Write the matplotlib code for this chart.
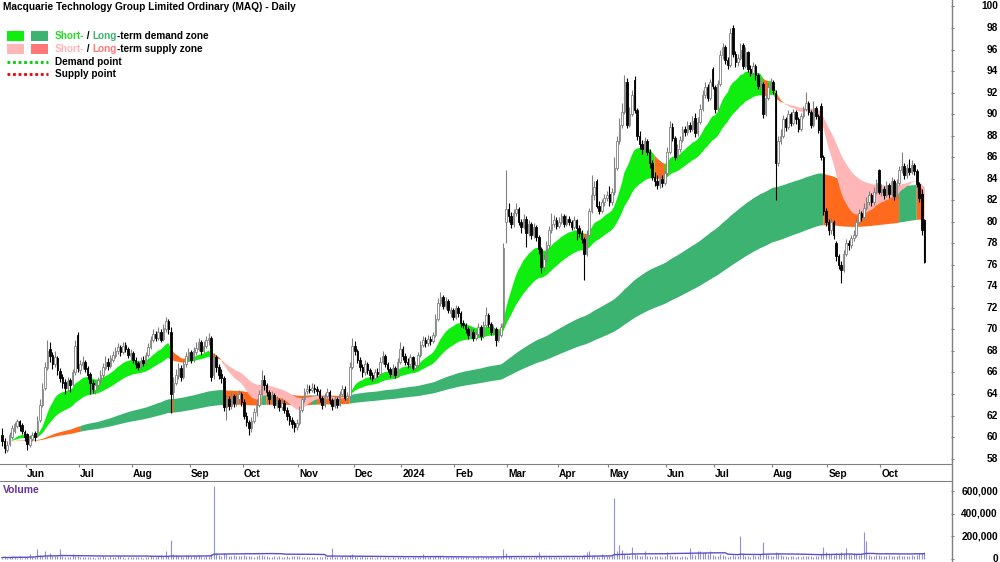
import numpy as np
import pandas as pd
import matplotlib
matplotlib.use("Agg")
import matplotlib.pyplot as plt
from matplotlib.lines import Line2D
from matplotlib.patches import Rectangle
from matplotlib.transforms import blended_transform_factory

plt.rcParams['font.family'] = ['Liberation Sans', 'DejaVu Sans']

title = "Macquarie Technology Group Limited Ordinary (MAQ) - Daily"
holidays = ['2023-06-12', '2023-12-25', '2023-12-26', '2024-01-01', '2024-01-26',
            '2024-03-29', '2024-04-01', '2024-04-25', '2024-06-10']

opens = [
    60.2, 59.6, 58.8, 59.4, 60.0, 60.6, 61.0, 61.5, 61.1, 60.5,
    60.3, 59.3, 59.8, 60.4, 60.2, 61.6, 63.0, 64.6, 66.4, 68.2, 67.6, 66.8, 67.3, 66.1, 65.6, 65.1, 64.6, 65.3, 64.9, 66.0, 69.5,
    66.2, 66.7, 67.0, 66.4, 65.9, 65.0, 64.4, 64.8, 65.2, 65.8, 66.4, 67.0, 66.6, 67.2, 67.5, 68.0, 68.4, 67.9, 68.6, 68.2, 67.5,
    67.8, 67.2, 66.9, 66.5, 67.2, 66.9, 67.6, 68.4, 69.0, 69.6, 69.2, 69.8, 69.1, 70.0, 70.8, 69.8, 64.2, 65.0, 65.7, 66.4, 65.6, 66.8, 67.4,
    67.9, 67.2, 67.9, 68.2, 68.8, 68.0, 68.5, 69.0, 69.2, 65.8, 67.4, 66.5, 65.9, 65.5, 62.8, 63.5, 62.9, 63.8, 63.2, 63.5, 64.0,
    63.3, 62.0, 61.4, 60.8, 61.5, 62.3, 63.0, 64.0, 65.3, 64.8, 64.2, 63.4, 63.9, 63.0, 63.4, 62.8, 63.2, 62.5, 62.0, 61.6, 61.3, 60.9,
    61.3, 62.5, 63.5, 64.3, 64.5, 64.4, 64.6, 64.5, 64.3, 63.6, 63.0, 63.8, 64.2, 63.4, 62.9, 63.5, 63.0, 64.0, 64.5, 63.6, 63.8, 66.5,
    68.5, 68.0, 67.2, 66.5, 66.0, 66.8, 66.2, 65.8, 65.5, 66.0, 65.9, 67.0, 67.5, 66.8, 66.3, 65.9, 66.4, 65.8, 67.0,
    68.2, 67.5, 67.0, 66.8, 67.4, 66.4, 66.7, 67.6, 68.6, 69.0, 68.7, 69.1, 68.9, 69.5, 71.0, 72.5, 73.0, 72.2, 72.6, 71.5, 71.8,
    71.2, 72.0, 71.5, 70.6, 70.4, 70.0, 69.5, 69.8, 69.2, 69.6, 70.2, 69.4, 70.4, 71.3, 70.5, 69.8, 70.0, 69.0, 69.5, 70.5, 80.0,
    81.2, 80.5, 79.8, 80.8, 81.2, 80.0, 79.5, 80.3, 79.0, 79.8, 78.8, 79.5, 78.6, 77.5, 75.8, 76.5, 77.8, 79.2, 79.8, 80.2,
    79.6, 80.0, 80.5, 79.8, 80.3, 80.0, 79.5, 80.2, 79.4, 79.0, 78.4, 77.0, 78.8, 81.0, 82.5, 83.8, 81.5, 81.0, 81.8, 82.2,
    82.6, 81.8, 82.8, 85.0, 87.5, 89.0, 90.2, 93.0, 89.0, 90.0, 93.2, 90.4, 88.0, 87.2, 86.8, 87.5, 86.5, 85.5, 84.2, 83.8, 83.4, 84.0, 83.6,
    84.5, 86.5, 88.8, 87.8, 86.0, 86.8, 87.6, 88.6, 88.3, 89.0, 88.6, 89.6, 88.2, 89.3, 90.5, 91.8, 92.5, 91.5, 94.2,
    92.5, 90.5, 92.8, 95.5, 96.2, 95.0, 94.6, 98.0, 95.6, 94.8, 95.2, 96.4, 94.5, 95.8, 94.2, 93.8, 94.5, 93.6, 92.6, 92.8, 90.0, 91.5, 92.5,
    93.0, 92.0, 85.5, 87.5, 88.0, 89.5, 88.8, 90.0, 89.2, 90.2, 89.5, 88.6, 89.8, 90.5, 91.0, 90.2, 89.0, 90.6, 89.8, 90.8, 86.0, 81.0,
    80.0, 79.2, 80.0, 78.0, 76.8, 76.0, 75.5, 77.0, 78.0, 77.8, 78.5, 78.8, 80.0, 80.8, 80.4, 81.3, 81.8, 82.5, 81.8, 82.8, 84.8,
    82.8, 83.0, 82.5, 83.4, 82.6, 83.8, 82.4, 83.6, 84.8, 85.2, 84.3, 85.0, 84.6, 85.3, 84.7, 83.5, 82.6, 80.2,
]
highs = [
    60.8, 59.9, 59.6, 60.5, 61.1, 61.4, 61.7, 61.6, 61.3, 60.7,
    60.4, 60.2, 60.5, 60.6, 62.0, 63.5, 65.0, 67.0, 69.0, 68.8, 67.9, 68.0, 67.5, 66.4, 65.9, 65.4, 65.6, 65.5, 66.3, 69.0, 69.8,
    67.2, 67.5, 67.2, 66.6, 66.0, 65.3, 65.2, 65.6, 66.2, 66.9, 67.5, 67.3, 67.6, 68.0, 68.4, 68.7, 68.6, 68.8, 68.8, 68.4, 68.2,
    68.0, 67.4, 67.1, 67.4, 67.5, 67.9, 68.7, 69.4, 70.0, 69.9, 70.2, 70.0, 70.5, 71.2, 71.0, 70.2, 65.6, 66.3, 66.9, 66.7, 67.2, 67.9, 68.3,
    68.1, 68.4, 68.8, 69.2, 69.0, 68.9, 69.4, 69.7, 69.4, 67.8, 67.6, 66.8, 66.3, 65.7, 63.9, 63.8, 64.2, 64.0, 64.1, 64.4, 64.2,
    63.5, 62.3, 61.6, 61.9, 62.7, 63.4, 64.4, 66.2, 65.8, 65.0, 64.4, 64.3, 64.1, 63.8, 63.6, 63.6, 63.4, 62.8, 62.2, 61.9, 61.5, 61.7,
    62.9, 63.8, 64.6, 64.9, 64.8, 65.0, 64.9, 64.7, 64.5, 63.8, 64.1, 64.6, 64.4, 63.6, 63.8, 63.7, 64.3, 64.8, 64.7, 64.2, 67.0, 69.2,
    68.9, 68.2, 67.4, 66.8, 67.2, 67.0, 66.4, 66.0, 66.3, 66.4, 67.4, 68.0, 67.7, 67.0, 66.5, 66.8, 66.6, 67.3, 68.8,
    68.5, 67.8, 67.3, 67.7, 67.5, 67.1, 67.9, 68.9, 69.4, 69.3, 69.5, 69.4, 69.8, 71.4, 72.9, 73.5, 73.2, 73.0, 72.8, 72.1, 72.0,
    72.3, 72.2, 71.7, 70.9, 70.6, 70.2, 70.1, 70.0, 69.9, 70.6, 70.4, 70.8, 72.1, 71.5, 70.7, 70.4, 70.2, 69.9, 70.6, 78.0, 84.8,
    81.7, 80.9, 81.2, 81.7, 81.4, 80.3, 80.7, 80.5, 80.2, 80.0, 79.9, 79.7, 78.8, 77.7, 77.0, 78.2, 79.6, 80.8, 80.6, 80.4,
    80.4, 80.8, 80.7, 80.6, 80.5, 80.2, 80.5, 80.3, 79.7, 79.2, 78.6, 79.2, 81.3, 84.3, 83.8, 84.0, 81.9, 82.1, 82.6, 82.9,
    83.3, 83.1, 86.0, 88.0, 89.6, 91.0, 93.6, 93.4, 90.7, 92.2, 93.5, 90.6, 88.4, 87.6, 87.9, 87.7, 86.8, 85.7, 84.6, 84.3, 84.5, 84.3, 84.8,
    86.9, 89.4, 89.2, 88.0, 87.2, 88.0, 88.9, 88.9, 89.4, 89.3, 89.8, 90.1, 89.7, 90.9, 92.2, 93.0, 92.8, 93.3, 94.4,
    92.7, 93.2, 96.0, 96.6, 96.4, 95.3, 98.0, 98.3, 95.9, 95.6, 96.6, 96.6, 96.2, 95.9, 94.6, 94.8, 94.7, 93.8, 93.4, 93.0, 91.9, 92.9, 93.4,
    93.2, 92.2, 88.0, 88.6, 89.9, 89.7, 90.4, 90.2, 90.5, 90.4, 89.7, 90.1, 90.8, 92.1, 91.2, 90.4, 91.2, 90.8, 90.0, 91.0, 86.2, 81.3,
    80.3, 80.4, 80.2, 78.2, 77.0, 76.4, 77.4, 78.4, 78.3, 78.8, 79.2, 80.4, 81.2, 81.0, 81.7, 82.3, 82.9, 82.7, 83.2, 84.0, 84.9,
    83.5, 83.3, 83.8, 83.6, 84.2, 84.0, 84.0, 85.2, 86.5, 85.5, 85.4, 85.8, 85.7, 85.5, 84.9, 83.7, 83.0, 80.3,
]
lows = [
    59.2, 58.5, 58.6, 59.2, 59.8, 60.4, 60.8, 60.6, 60.3, 59.6,
    58.8, 59.1, 59.6, 59.6, 60.0, 61.4, 62.8, 64.4, 66.2, 67.0, 66.3, 66.5, 65.8, 65.1, 64.6, 64.0, 64.3, 64.2, 64.7, 65.8, 66.0,
    65.9, 66.3, 66.0, 65.4, 64.0, 64.1, 64.0, 64.5, 65.0, 65.5, 66.2, 66.2, 66.4, 67.0, 67.3, 67.7, 67.5, 67.7, 67.9, 67.3, 67.2,
    66.9, 66.4, 66.2, 66.3, 66.6, 66.7, 67.4, 68.2, 68.8, 68.9, 69.0, 68.8, 68.9, 69.8, 69.6, 62.2, 63.5, 64.8, 65.4, 65.2, 65.4, 66.5, 67.1,
    66.9, 67.0, 67.6, 68.0, 67.6, 67.8, 68.3, 68.6, 65.2, 65.4, 66.0, 65.4, 65.0, 62.4, 61.6, 62.5, 62.6, 62.8, 62.9, 63.2, 62.9,
    61.7, 61.0, 60.2, 60.5, 61.3, 62.0, 62.8, 63.8, 64.4, 63.8, 63.1, 63.2, 62.7, 62.7, 62.4, 62.5, 62.2, 61.6, 61.1, 60.8, 60.5, 60.7,
    61.1, 62.3, 63.3, 64.0, 64.1, 64.2, 64.1, 63.9, 63.3, 62.6, 62.8, 63.6, 63.1, 62.5, 62.7, 62.7, 62.9, 63.8, 63.4, 63.3, 63.6, 66.3,
    67.6, 66.9, 66.1, 65.6, 65.8, 65.9, 65.4, 65.2, 65.3, 65.6, 65.7, 66.8, 66.5, 66.0, 65.6, 65.7, 65.5, 65.6, 66.8,
    67.2, 66.7, 66.4, 66.5, 66.2, 66.2, 66.5, 67.4, 68.4, 68.4, 68.5, 68.6, 68.7, 69.3, 70.8, 72.2, 71.9, 71.9, 71.5, 71.2, 70.9,
    71.0, 71.2, 70.2, 70.1, 69.7, 69.1, 69.2, 68.9, 69.0, 69.4, 69.0, 69.2, 70.2, 70.2, 69.5, 69.5, 68.5, 68.8, 69.3, 70.2, 78.0,
    80.0, 79.4, 79.5, 80.5, 79.7, 79.0, 79.3, 77.7, 78.7, 78.4, 78.5, 78.2, 77.0, 75.2, 75.4, 76.3, 77.6, 79.0, 79.5, 79.3,
    79.4, 79.8, 79.5, 79.6, 79.7, 79.2, 79.3, 78.3, 78.6, 78.0, 74.6, 76.8, 78.6, 80.8, 82.0, 81.3, 80.7, 80.8, 81.5, 81.9,
    81.5, 81.6, 82.5, 84.8, 87.2, 88.7, 90.0, 88.7, 88.8, 89.8, 90.1, 87.6, 86.8, 86.3, 86.5, 86.2, 85.0, 83.9, 83.3, 83.0, 83.1, 83.2, 83.4,
    84.3, 86.3, 87.5, 85.7, 85.8, 86.5, 87.4, 88.0, 88.1, 88.3, 88.4, 87.9, 88.0, 89.1, 90.3, 91.5, 91.2, 91.3, 92.3,
    90.1, 90.3, 92.6, 95.1, 94.7, 94.2, 94.4, 95.3, 94.4, 94.5, 95.0, 94.2, 94.3, 93.9, 93.5, 93.6, 93.2, 92.3, 92.2, 89.6, 89.8, 91.3, 92.2,
    91.9, 82.0, 85.2, 87.2, 87.8, 88.4, 88.6, 88.9, 89.0, 89.1, 88.3, 88.4, 89.6, 90.3, 89.9, 88.7, 88.8, 89.5, 88.2, 85.7, 80.6, 79.6,
    78.8, 78.9, 78.4, 76.4, 75.6, 74.3, 75.3, 76.8, 77.4, 77.6, 78.2, 78.6, 79.8, 80.1, 80.2, 81.1, 81.6, 81.5, 81.6, 82.6, 82.6,
    82.4, 82.1, 82.3, 82.2, 82.4, 82.0, 82.2, 83.4, 84.5, 84.0, 84.1, 84.3, 84.4, 84.3, 83.2, 81.8, 78.8, 76.2,
]
closes = [
    59.6, 59.0, 59.3, 60.2, 60.8, 61.2, 61.5, 61.0, 60.6, 60.0,
    59.4, 59.9, 60.2, 60.0, 61.5, 63.0, 64.5, 66.5, 68.0, 67.5, 66.8, 67.4, 66.2, 65.5, 65.0, 64.6, 65.2, 64.8, 66.0, 68.5, 66.4,
    66.8, 67.0, 66.3, 65.8, 65.0, 64.5, 64.8, 65.3, 65.8, 66.5, 67.0, 66.6, 67.3, 67.6, 68.0, 68.4, 67.9, 68.5, 68.2, 67.6, 67.8,
    67.2, 66.8, 66.5, 67.1, 66.9, 67.6, 68.4, 69.0, 69.6, 69.2, 69.8, 69.0, 70.1, 70.8, 70.0, 64.0, 65.0, 65.8, 66.4, 65.6, 66.8, 67.5, 67.9,
    67.2, 68.0, 68.3, 68.8, 68.0, 68.5, 69.0, 69.2, 65.6, 67.4, 66.5, 65.8, 65.5, 62.8, 63.5, 62.9, 63.8, 63.2, 63.6, 64.0, 63.3,
    62.0, 61.4, 60.8, 61.5, 62.3, 63.0, 64.0, 65.3, 64.8, 64.2, 63.5, 63.9, 63.0, 63.4, 62.8, 63.2, 62.5, 62.0, 61.5, 61.2, 60.9, 61.3,
    62.5, 63.5, 64.2, 64.5, 64.4, 64.6, 64.5, 64.3, 63.6, 63.0, 63.8, 64.2, 63.4, 62.9, 63.5, 63.0, 64.0, 64.5, 63.6, 63.8, 66.5, 68.5,
    68.0, 67.2, 66.5, 66.0, 66.8, 66.2, 65.8, 65.5, 66.0, 65.9, 67.0, 67.5, 66.8, 66.3, 65.9, 66.4, 65.8, 67.0, 68.2,
    67.5, 67.0, 66.8, 67.4, 66.4, 66.7, 67.6, 68.6, 69.0, 68.7, 69.1, 68.9, 69.5, 71.0, 72.5, 73.0, 72.2, 72.6, 71.8, 71.8, 71.2,
    72.0, 71.5, 70.6, 70.4, 70.0, 69.5, 69.8, 69.2, 69.6, 70.2, 69.4, 70.4, 71.3, 70.5, 69.8, 70.0, 69.0, 69.5, 70.2, 77.6, 81.2,
    80.5, 79.8, 80.8, 81.2, 80.0, 79.5, 80.3, 79.0, 79.8, 78.8, 79.5, 78.6, 77.5, 75.8, 76.5, 77.8, 79.2, 79.8, 80.2, 79.6,
    80.0, 80.5, 79.8, 80.3, 80.0, 79.5, 80.2, 79.4, 79.0, 78.4, 77.0, 78.8, 81.0, 82.5, 83.2, 81.5, 81.0, 81.8, 82.2, 82.5,
    81.8, 82.8, 85.0, 87.5, 89.0, 90.2, 93.0, 89.0, 90.0, 91.8, 90.4, 88.0, 87.2, 86.8, 87.5, 86.5, 85.5, 84.2, 83.8, 83.4, 84.0, 83.6, 84.5,
    86.5, 88.8, 87.8, 86.0, 86.8, 87.6, 88.5, 88.3, 89.0, 88.6, 89.4, 88.2, 89.3, 90.5, 91.8, 92.5, 91.5, 93.0, 92.6,
    90.5, 92.8, 95.5, 96.2, 95.0, 94.6, 97.5, 95.6, 94.8, 95.2, 96.0, 94.5, 95.8, 94.2, 93.8, 94.5, 93.6, 92.6, 93.0, 90.0, 91.5, 92.5, 93.0,
    92.2, 85.5, 87.5, 88.0, 89.5, 88.8, 90.0, 89.2, 90.2, 89.5, 88.6, 89.8, 90.5, 91.0, 90.2, 89.0, 90.6, 89.8, 88.5, 86.0, 81.0, 80.0,
    79.2, 80.0, 78.8, 76.8, 76.0, 75.5, 77.0, 78.0, 77.8, 78.5, 78.8, 80.0, 80.8, 80.4, 81.3, 81.8, 82.5, 81.8, 82.8, 83.6, 82.8,
    83.0, 82.5, 83.4, 82.6, 83.8, 82.4, 83.6, 84.8, 85.2, 84.3, 85.0, 84.6, 85.3, 84.7, 83.5, 82.2, 79.2, 76.3,
]
volume_k = [
    12, 18, 9, 14, 22, 16, 11, 25, 13, 17,
    15, 40, 19, 22, 90, 35, 28, 75, 30, 55, 26, 24, 30, 90, 28, 20, 18, 22, 45, 30, 25,
    18, 15, 20, 14, 22, 17, 12, 16, 19, 25, 14, 11, 28, 21, 17, 30, 24, 15, 12, 18, 20,
    14, 16, 19, 22, 12, 18, 15, 26, 20, 17, 24, 35, 22, 70, 30, 170, 45, 38, 25, 29, 22, 27, 33,
    30, 26, 24, 35, 28, 22, 31, 27, 40, 650, 50, 38, 29, 55, 42, 30, 26, 33, 28, 24, 31,
    35, 28, 30, 25, 22, 27, 33, 38, 29, 24, 18, 21, 26, 19, 23, 17, 20, 25, 22, 28, 30, 24,
    26, 22, 19, 15, 18, 14, 21, 17, 16, 20, 23, 18, 15, 100, 22, 19, 17, 24, 20, 18, 35, 40,
    28, 22, 19, 25, 17, 20, 15, 18, 13, 16, 21, 12, 14, 18, 11, 15, 13, 17, 22,
    16, 19, 14, 12, 18, 15, 20, 17, 40, 22, 18, 25, 19, 30, 28, 24, 20, 18, 22, 16, 19,
    17, 21, 15, 19, 14, 18, 12, 16, 20, 15, 13, 18, 22, 17, 14, 16, 19, 15, 21, 90, 55,
    30, 25, 22, 18, 20, 17, 24, 19, 15, 21, 18, 26, 60, 28, 22, 19, 24, 17, 20, 15,
    18, 14, 20, 16, 22, 15, 19, 17, 21, 25, 35, 65, 70, 28, 32, 26, 22, 40, 25, 30,
    28, 35, 540, 75, 120, 80, 45, 38, 30, 110, 42, 35, 28, 25, 70, 30, 26, 22, 28, 24, 30, 19, 25,
    60, 35, 30, 28, 24, 22, 26, 30, 20, 100, 45, 38, 70, 75, 50, 65, 40, 72, 35,
    30, 28, 45, 38, 25, 22, 30, 35, 28, 24, 200, 45, 30, 26, 22, 35, 28, 30, 40, 155, 45, 38, 30,
    28, 60, 55, 38, 30, 26, 22, 28, 24, 20, 25, 22, 28, 24, 30, 26, 22, 25, 30, 45, 107, 60,
    45, 40, 38, 55, 48, 60, 42, 95, 40, 35, 50, 45, 38, 42, 240, 160, 35, 30, 28, 32, 38,
    30, 28, 25, 32, 26, 30, 28, 35, 30, 27, 25, 29, 33, 28, 35, 55, 50, 60,
]
price_ticks = list(range(58, 101, 2))
volume_ticks = [0, 200000, 400000, 600000]

# ---------------------------------------------------------------------------
dates = pd.bdate_range('2023-05-18', '2024-10-24')
dates = dates[~dates.isin(pd.to_datetime(holidays))]
n = min(len(dates), len(closes))
dates = dates[:n]
o = np.array(opens[:n]); h = np.array(highs[:n]); l = np.array(lows[:n]); c = np.array(closes[:n])
v = np.array(volume_k[:n]) * 1000.0
x = np.arange(n)

cs = pd.Series(c)
s_fast = cs.ewm(span=18, adjust=False).mean().values
s_slow = cs.ewm(span=40, adjust=False).mean().values
l_fast = cs.ewm(span=150, adjust=False).mean().values
l_slow = cs.ewm(span=250, adjust=False).mean().values

GREEN = '#10EE10'
DKGREEN = '#3CB371'
PINK = '#FFB6B6'
ORANGE = '#FF6A1C'
SALMON = '#FF7777'

fig = plt.figure(figsize=(10, 5.62), dpi=100)
ax = fig.add_axes([0, 98 / 562, 0.951, 464 / 562])
axv = fig.add_axes([0, 0, 0.951, 81 / 562])


def band(a, b, mask, color, z):
    m = mask.copy()
    m[1:] |= mask[:-1]
    ax.fill_between(x, a, b, where=m, color=color, lw=0, zorder=z)


# long-term zone
l_top = np.maximum(l_fast, l_slow)
l_green = (c >= l_top + 0.6) & (x >= 31)
band(l_fast, l_slow, l_green, DKGREEN, 1)
band(l_fast, l_slow, ~l_green, ORANGE, 1)

# short-term zone
s_bot = np.minimum(s_fast, s_slow)
s_pink = s_fast < s_slow
s_orange = (~s_pink) & (c < s_bot)
s_green = (~s_pink) & (~s_orange)
band(s_fast, s_slow, s_green, GREEN, 2)
band(s_fast, s_slow, s_orange, ORANGE, 2)
band(s_fast, s_slow, s_pink, PINK, 2)

# candles
up = c >= o
edge = np.where(up, '#808080', '#000000')
face = np.where(up, '#ffffff', '#000000')
ax.vlines(x, l, h, colors=edge, lw=0.8, zorder=3)
body = np.maximum(np.abs(c - o), 0.06)
ax.bar(x, body, bottom=np.minimum(o, c), width=0.62, color=face,
       edgecolor=edge, linewidth=0.6, zorder=4)

ax.set_xlim(-0.8, 376.6)
ax.set_ylim(57.5, 100.6)
for s in ['left', 'top', 'right']:
    ax.spines[s].set_visible(False)
ax.spines['bottom'].set_color('#808080')
ax.yaxis.tick_right()
ax.set_yticks(price_ticks)
ax.tick_params(axis='y', length=2.5, width=0.8, color='#808080', labelright=False, direction='out')
ytr = blended_transform_factory(ax.transAxes, ax.transData)
for t in price_ticks:
    ax.text(1.0494, t, str(t), transform=ytr, ha='right', va='center',
            fontsize=7.3, fontweight='bold', clip_on=False)

# month ticks
month_first = pd.Series(x, index=dates).groupby([dates.year, dates.month]).first()
mt_pos, mt_lab = [], []
for (yy, mm), idx in month_first.items():
    if idx == 0:
        continue
    mt_pos.append(idx - 0.5)
    mt_lab.append(str(yy) if mm == 1 else pd.Timestamp(yy, mm, 1).strftime('%b'))
ax.set_xticks(mt_pos)
ax.set_xticklabels([])
ax.tick_params(axis='x', length=2.5, width=0.8, color='#808080', direction='out')
xtr = blended_transform_factory(ax.transData, ax.transAxes)
for p, lab in zip(mt_pos, mt_lab):
    ax.text(p + 0.5, -0.0216, lab, transform=xtr, ha='left', va='center',
            fontsize=7.3, fontweight='bold', clip_on=False)

# volume panel
axv.vlines(x, 0, v, colors='#9090D8', lw=0.8, zorder=2)
vavg = pd.Series(v).rolling(45, min_periods=1).mean().values
axv.plot(x, vavg, color='#5A4FC8', lw=1.0, zorder=3)
axv.set_xlim(-0.8, 376.6)
axv.set_ylim(-26700, 693300)
for s in ['left', 'bottom', 'right']:
    axv.spines[s].set_visible(False)
axv.spines['top'].set_color('#808080')
axv.set_xticks([])
axv.yaxis.tick_right()
axv.set_yticks(volume_ticks)
axv.tick_params(axis='y', length=2.5, width=0.8, color='#808080', labelright=False, direction='out')
vtr = blended_transform_factory(axv.transAxes, axv.transData)
for t in volume_ticks:
    axv.text(1.0494, t, f"{t:,}", transform=vtr, ha='right', va='center',
             fontsize=7.3, fontweight='bold', clip_on=False)
axv.text(0.003, 1 - 9 / 81, 'Volume', transform=axv.transAxes, ha='left', va='center',
         fontsize=7.5, fontweight='bold', color='#663399')

# right border line spanning both panels
fig.add_artist(Line2D([0.9515, 0.9515], [0, 1], transform=fig.transFigure,
                      color='#808080', lw=1.0))

# title
fig.text(0.003, 1 - 7 / 562, title, ha='left', va='center', fontsize=7.3, fontweight='bold')


# legend
def px(xp, yp):
    return xp / 1000, 1 - yp / 562


for (x0, y0, col) in [(7, 31, GREEN), (31, 31, DKGREEN), (7, 44, PINK), (31, 44, SALMON)]:
    fig.add_artist(Rectangle(px(x0, y0 + 10), 17 / 1000, 10 / 562, transform=fig.transFigure,
                             facecolor=col, edgecolor='none'))
fig.add_artist(Line2D([0.007, 0.048], [1 - 62 / 562] * 2, transform=fig.transFigure,
                      color='#00CC00', lw=2.0, ls=(0, (1, 1))))
fig.add_artist(Line2D([0.007, 0.048], [1 - 74 / 562] * 2, transform=fig.transFigure,
                      color='#EE0000', lw=2.0, ls=(0, (1, 1))))


def chain(xp, yp, parts):
    prev = None
    for s, col in parts:
        if prev is None:
            prev = fig.text(*px(xp, yp), s, color=col, ha='left', va='center',
                            fontsize=7.2, fontweight='bold')
        else:
            prev = fig.add_artist(plt.Annotation(s, xy=(1, 0.5), xycoords=prev, ha='left', va='center',
                                                 fontsize=7.2, fontweight='bold', color=col))
    return prev


chain(55, 36, [('Short-', '#22DD22'), (' / ', 'black'), ('Long', DKGREEN), ('-term demand zone', 'black')])
chain(55, 49, [('Short-', PINK), (' / ', 'black'), ('Long', SALMON), ('-term supply zone', 'black')])
chain(55, 62, [('Demand point', 'black')])
chain(55, 74, [('Supply point', 'black')])

fig.savefig('out.png', dpi=100)
